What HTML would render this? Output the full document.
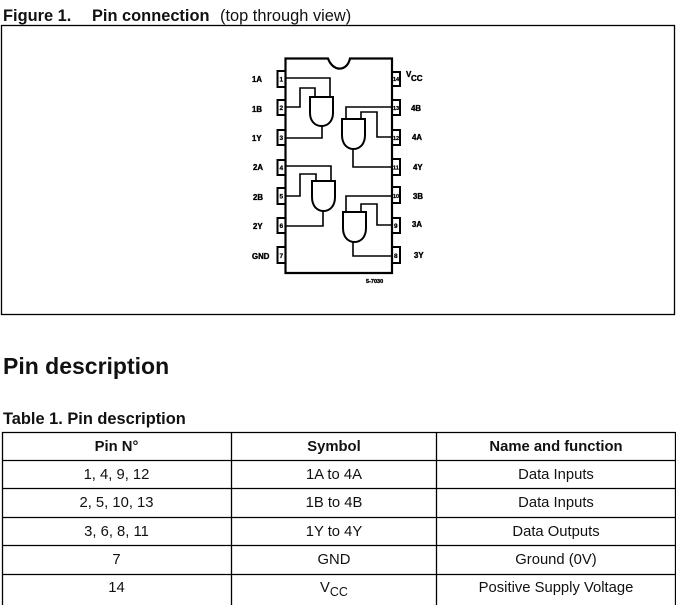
<!DOCTYPE html>
<html><head><meta charset="utf-8">
<style>
html,body{margin:0;padding:0;background:#fff;width:676px;height:605px;overflow:hidden}
body{position:relative;font-family:"Liberation Sans",sans-serif;color:#111}
.t{position:absolute;white-space:nowrap;line-height:1}
.b{font-weight:bold}
.c{position:absolute;text-align:center;font-size:14.8px;line-height:1;white-space:nowrap}
svg{position:absolute;left:0;top:0}
</style></head><body>
<div class="t b" style="left:3px;top:8px;font-size:16.4px">Figure 1.</div>
<div class="t b" style="left:92px;top:8px;font-size:16.4px">Pin connection</div>
<div class="t" style="left:220px;top:8px;font-size:16.4px">(top through view)</div>
<div class="t b" style="left:3px;top:355px;font-size:23px">Pin description</div>
<div class="t b" style="left:3px;top:411px;font-size:16.4px">Table 1. Pin description</div>

<svg width="676" height="605" viewBox="0 0 676 605" fill="none" stroke="#000">
<rect x="1.5" y="25.5" width="673" height="289" stroke-width="1.3"/>
<path d="M328 58.5H285.5V273H392V58.5H350 C347 72 333 72 328 58.5Z" stroke-width="2.2"/>
<g stroke-width="2">
<rect x="277.5" y="71" width="8" height="16"/><rect x="277.5" y="100" width="8" height="15"/><rect x="277.5" y="130" width="8" height="15"/><rect x="277.5" y="160" width="8" height="15"/><rect x="277.5" y="188" width="8" height="16"/><rect x="277.5" y="218" width="8" height="15"/><rect x="277.5" y="247" width="8" height="16"/>
<rect x="392" y="72" width="8" height="14"/><rect x="392" y="100" width="8" height="15"/><rect x="392" y="130" width="8" height="15"/><rect x="392" y="159" width="8" height="16"/><rect x="392" y="187" width="8" height="16"/><rect x="392" y="218" width="8" height="15"/><rect x="392" y="247" width="8" height="16"/>
<path d="M310 97H333V113C333 121 328 126 321.5 126C315 126 310 121 310 113Z"/>
<path d="M312 181H335V197C335 206 330 211 323.5 211C317 211 312 206 312 197Z"/>
<path d="M342 119H365V135C365 144 360 149 353.5 149C347 149 342 144 342 135Z"/>
<path d="M343 212H366V228C366 237 361 242 354.5 242C348 242 343 237 343 228Z"/>
</g>
<g stroke-width="1.6">
<path d="M285 78H330V97"/><path d="M285 107H300V88H315V97"/><path d="M322 126V138H285"/>
<path d="M285 166H331V181"/><path d="M285 196H300V174H316V181"/><path d="M323 211V226H285"/>
<path d="M392 107H346V119"/><path d="M392 137H377V112H361V119"/><path d="M353 149V167H392"/>
<path d="M392 196H346V212"/><path d="M392 225H377V204H361V212"/><path d="M353 242V256H392"/>
</g>
<g stroke-width="1.3">
<path d="M2 432.5H675.5M2 460.5H675.5M2 488.5H675.5M2 517.5H675.5M2 545.5H675.5M2 574.5H675.5"/>
<path d="M2.5 432V605M231.5 432V605M436.5 432V605M675.5 432V605"/>
</g>
<g fill="#000" stroke="#000" stroke-width="0.35" font-family="'Liberation Sans',sans-serif" font-weight="bold" font-size="7.8">
<text x="252" y="82">1A</text><text x="252" y="112">1B</text><text x="252" y="141">1Y</text><text x="253" y="170">2A</text>
<text x="253" y="200">2B</text><text x="253" y="229">2Y</text><text x="252" y="259">GND</text>
<text x="406" y="77" font-size="8">V</text><text x="411" y="81" font-size="8">CC</text>
<text x="411" y="111">4B</text><text x="412" y="140">4A</text><text x="413" y="170">4Y</text>
<text x="413" y="199">3B</text><text x="412" y="227">3A</text><text x="414" y="258">3Y</text>
<text x="366" y="283" font-size="5.5">5-7030</text>
<g font-size="6.5" stroke-width="0.25">
<text x="279.5" y="81.5">1</text><text x="279.5" y="110">2</text><text x="279.5" y="140">3</text><text x="279.5" y="170">4</text><text x="279.5" y="198.5">5</text><text x="279.5" y="228">6</text><text x="279.5" y="258">7</text>
<text x="393" y="81" font-size="5.5">14</text><text x="393" y="110" font-size="5.5">13</text><text x="393" y="140" font-size="5.5">12</text><text x="393" y="169.5" font-size="5.5">11</text><text x="393" y="198" font-size="5.5">10</text><text x="394" y="228">9</text><text x="394" y="258">8</text>
</g>
</g>
</svg>

<div class="c b" style="left:2px;width:229px;top:440px">Pin N°</div>
<div class="c b" style="left:232px;width:204px;top:440px">Symbol</div>
<div class="c b" style="left:437px;width:238px;top:440px">Name and function</div>

<div class="c" style="left:2px;width:229px;top:468px">1, 4, 9, 12</div>
<div class="c" style="left:232px;width:204px;top:468px">1A to 4A</div>
<div class="c" style="left:437px;width:238px;top:468px">Data Inputs</div>

<div class="c" style="left:2px;width:229px;top:496px">2, 5, 10, 13</div>
<div class="c" style="left:232px;width:204px;top:496px">1B to 4B</div>
<div class="c" style="left:437px;width:238px;top:496px">Data Inputs</div>

<div class="c" style="left:2px;width:229px;top:525px">3, 6, 8, 11</div>
<div class="c" style="left:232px;width:204px;top:525px">1Y to 4Y</div>
<div class="c" style="left:437px;width:238px;top:525px">Data Outputs</div>

<div class="c" style="left:2px;width:229px;top:553px">7</div>
<div class="c" style="left:232px;width:204px;top:553px">GND</div>
<div class="c" style="left:437px;width:238px;top:553px">Ground (0V)</div>

<div class="c" style="left:2px;width:229px;top:581px">14</div>
<div class="c" style="left:232px;width:204px;top:581px">V<span style="font-size:12.5px;position:relative;top:4px">CC</span></div>
<div class="c" style="left:437px;width:238px;top:581px">Positive Supply Voltage</div>
</body></html>
